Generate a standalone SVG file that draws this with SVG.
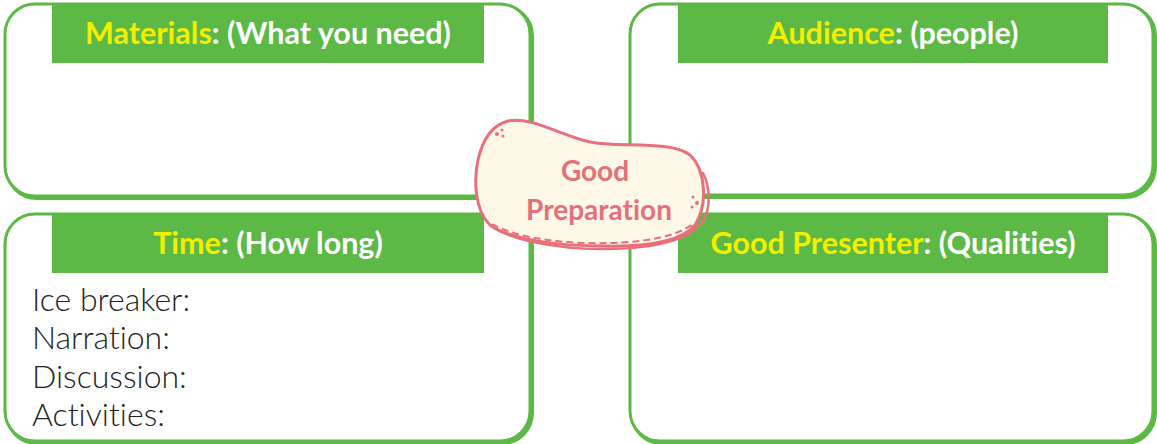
<svg xmlns="http://www.w3.org/2000/svg" width="1157" height="444" viewBox="0 0 1157 444">
<style>
text{font-variant-ligatures:none}
.box{fill:#fff;stroke:#5cb946;stroke-width:3}
.shadow{fill:none;stroke:#5cb946;stroke-width:4}
.hdr{fill:#5cb946}
.ht{font-family:Lato,"Noto Sans",sans-serif;font-weight:700;font-size:30.5px;fill:#ffffff;text-anchor:middle}
.y{fill:#f2ef00}
.body{font-family:Lato,"Noto Sans",sans-serif;font-weight:300;font-size:32px;fill:#222}
.blob{fill:#fdf8e8;stroke:#e8707a;stroke-width:3}
.bt{font-family:Lato,"Noto Sans",sans-serif;font-weight:700;font-size:28px;fill:#e4707a;text-anchor:middle}
</style>
<g id="connectors"></g>
<g id="materials">
<rect class="shadow" x="7" y="6" width="525" height="192" rx="30"/>
<rect class="box" x="5" y="4" width="525" height="192" rx="30"/>
<rect class="hdr" x="52" y="5" width="432" height="58"/>
<text class="ht" x="268" y="44"><tspan class="y">Materials</tspan>: (What you need)</text>
</g>
<g id="audience">
<rect class="shadow" x="632" y="6" width="523" height="191" rx="30"/>
<rect class="box" x="630" y="4" width="523" height="191" rx="30"/>
<rect class="hdr" x="678" y="5" width="430" height="58"/>
<text class="ht" x="893" y="44"><tspan class="y">Audience</tspan>: (people)</text>
</g>
<g id="time">
<rect class="shadow" x="7" y="216" width="525" height="227" rx="30"/>
<rect class="box" x="5" y="214" width="525" height="227" rx="30"/>
<rect class="hdr" x="52" y="215" width="432" height="58"/>
<text class="ht" x="268" y="254"><tspan class="y">Time</tspan>: (How long)</text>
<text class="body" x="32" y="311">Ice breaker:</text>
<text class="body" x="32" y="349">Narration:</text>
<text class="body" x="32" y="388">Discussion:</text>
<text class="body" x="32" y="426">Activities:</text>
</g>
<g id="presenter">
<rect class="shadow" x="632" y="216" width="523" height="227" rx="30"/>
<rect class="box" x="630" y="214" width="523" height="227" rx="30"/>
<rect class="hdr" x="678" y="215" width="430" height="58"/>
<text class="ht" x="893" y="254"><tspan class="y">Good Presenter</tspan>: (Qualities)</text>
</g>
<g id="good-preparation">
<path d="M486,220 C500,240 560,250 610,249 C660,248 700,238 707,212 C711,196 707,178 702,172" fill="none" stroke="#e8707a" stroke-width="2.5"/>
<path class="blob" d="M508,121 C530,116 560,135 590,142 C620,148 670,140 690,155 C706,170 708,205 695,225 C680,243 640,247 603,246 C560,246 510,240 490,225 C474,210 474,178 478,160 C483,138 492,125 508,121 Z"/>
<path d="M492,224 C520,240 570,244 610,243 C650,242 680,235 694,223" fill="none" stroke="#e8707a" stroke-width="2" stroke-dasharray="7,4"/>
<circle cx="497" cy="134" r="2" fill="#e8707a"/>
<circle cx="502" cy="130" r="1.5" fill="#e8707a"/>
<circle cx="503" cy="136" r="1.5" fill="#e8707a"/>
<circle cx="693" cy="197" r="1.5" fill="#e8707a"/>
<circle cx="697" cy="203" r="2" fill="#e8707a"/>
<circle cx="692" cy="207" r="1.5" fill="#e8707a"/>
<circle cx="649" cy="244" r="1.2" fill="#e8707a"/>
<circle cx="653" cy="244" r="1.2" fill="#e8707a"/>
<text class="bt" x="595" y="181">Good</text>
<text class="bt" x="599" y="220">Preparation</text>
</g>
</svg>
